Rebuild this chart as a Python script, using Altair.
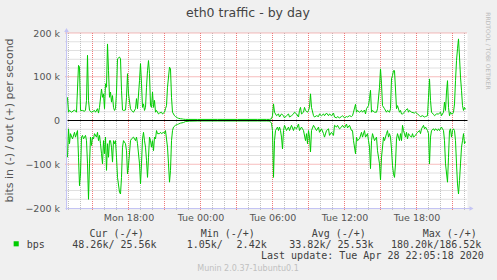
import altair as alt
import pandas as pd

# ---------------- data (5-minute slots from Mon 2020-04-27 12:55) ----------------
START = pd.Timestamp("2020-04-27 12:55")
STEP = pd.Timedelta(minutes=5)
END = START + 400 * STEP

out_idx = [0, 1, 2, 4, 7, 9, 11, 12, 13, 15, 17, 18, 19, 20, 21, 22, 24, 27, 28, 30, 31, 32, 34, 35, 36, 37, 38, 39, 40, 41, 42, 43, 44, 45, 46, 47, 48, 49, 50, 52, 53, 54, 55, 56, 58, 59, 60, 61, 63, 64, 66,
           68, 69, 70, 72, 73, 74, 75, 76, 77, 78, 79, 80, 81, 82, 83, 84, 85, 86, 87, 88, 89, 91, 92, 94, 95, 97, 98, 99, 100, 102, 103, 104, 105, 107, 108, 110, 111, 113, 115, 116, 118,
           130, 150, 170, 190, 199, 202,
           204, 205, 206, 207, 208, 209, 211, 212, 214, 216, 217, 219, 221, 222, 224, 226, 227, 229, 231, 232, 233, 234, 236, 237, 238, 240, 241, 242, 243, 244, 246, 247, 249, 251, 252, 254, 256, 257, 259, 261, 262, 264, 266,
           267, 269, 270, 272, 274, 275, 277, 279, 280, 282, 284, 285, 286, 288, 289, 290, 292, 294, 295, 297, 298, 299, 301, 302, 303, 304, 305, 307, 309, 310, 312, 313, 314, 315, 317, 319, 320, 322, 323, 324, 325, 326, 327, 328, 329, 330, 332, 333, 334,
           335, 337, 338, 340, 341, 342, 344, 347, 348, 350, 352, 353, 355, 357, 358, 360, 361, 362, 363, 364, 366, 367, 369, 371, 373, 374, 376, 377, 378, 379, 380, 381, 382, 383, 384, 385, 386, 387, 388, 389, 390, 391, 392, 393, 394, 395, 396, 397, 398]
out_kbps = [53, 19, 23, 19, 24, 19, 126, 122, 23, 23, 21, 24, 46, 149, 46, 23, 19, 23, 19, 27, 17, 30, 72, 53, 61, 27, 84, 76, 175, 114, 53, 65, 42, 57, 30, 23, 27, 65, 141, 145, 141, 69, 24, 23, 24, 53, 107, 61, 27, 23, 19,
            27, 50, 27, 91, 130, 84, 30, 38, 23, 30, 76, 114, 137, 107, 34, 30, 65, 30, 46, 19, 23, 15, 17, 19, 15, 19, 27, 34, 76, 122, 118, 53, 19, 11, 9, 6, 5, 4, 3.5, 3, 2.5,
            2.45, 2.5, 2.45, 2.5, 2.5, 2.5,
            4, 11, 38, 19, 15, 11, 15, 8, 15, 11, 6, 11, 15, 8, 11, 15, 19, 15, 8, 23, 30, 15, 19, 30, 23, 19, 23, 30, 61, 30, 11, 8, 11, 9, 15, 11, 15, 11, 17, 11, 15, 11, 17,
            8, 6, 9, 6, 9, 11, 6, 9, 8, 11, 9, 11, 19, 37, 19, 23, 19, 23, 19, 24, 15, 27, 34, 50, 69, 19, 23, 19, 19, 27, 76, 118, 84, 34, 27, 19, 23, 19, 27, 95, 103, 114, 114, 72, 27, 34, 19, 23, 15,
            15, 19, 23, 27, 19, 23, 19, 17, 19, 15, 11, 9, 11, 8, 9, 11, 53, 95, 46, 19, 14, 11, 15, 15, 19, 11, 19, 42, 23, 65, 91, 30, 11, 19, 15, 15, 19, 38, 91, 137, 164, 186.5, 145, 99, 69, 34, 23, 30, 25.56]

in_idx = [0, 1, 2, 3, 5, 7, 8, 10, 11, 12, 13, 14, 15, 16, 18, 19, 20, 21, 22, 23, 24, 25, 26, 27, 29, 30, 31, 32, 33, 34, 35, 36, 37, 38, 39, 40, 41, 42, 43, 44, 45, 46, 47, 48, 49, 50, 52, 53, 54, 55, 56, 58, 59, 60, 61, 63, 64, 66,
          68, 69, 70, 72, 73, 74, 75, 76, 77, 78, 79, 80, 81, 82, 83, 84, 85, 86, 87, 88, 89, 90, 92, 93, 94, 96, 97, 98, 100, 101, 102, 103, 104, 105, 106, 108, 110, 111, 113, 116, 118, 122,
          130, 150, 170, 190, 199, 202,
          204, 205, 206, 207, 208, 210, 211, 212, 213, 214, 215, 216, 217, 219, 221, 222, 224, 226, 227, 229, 231, 232, 234, 235, 236, 238, 239, 240, 241, 242, 243, 244, 246, 247, 249, 251, 252, 254, 256, 257, 259, 261, 262, 264, 266,
          267, 269, 270, 272, 274, 275, 277, 279, 280, 282, 284, 285, 286, 288, 289, 290, 292, 294, 295, 297, 298, 300, 301, 302, 303, 304, 305, 307, 309, 310, 312, 313, 314, 316, 317, 319, 320, 321, 322, 323, 324, 325, 326, 327, 328, 329, 330, 332, 333, 334,
          335, 336, 338, 339, 340, 341, 342, 344, 345, 346, 348, 349, 350, 352, 353, 354, 356, 357, 358, 360, 361, 362, 363, 364, 366, 367, 368, 370, 371, 372, 374, 375, 376, 377, 378, 380, 381, 382, 383, 384, 385, 386, 387, 388, 389, 390, 391, 392, 393, 394, 395, 396, 397, 398]
in_kbps = [-84, -19, -53, -30, -42, -27, -38, -23, -84, -149, -122, -38, -34, -42, -34, -46, -99, -180.2, -99, -38, -57, -38, -42, -30, -38, -27, -46, -34, -53, -76, -99, -46, -76, -38, -114, -53, -84, -46, -46, -61, -95, -46, -53, -46, -84, -130, -164, -168, -130, -61, -46, -53, -69, -122, -103, -46, -42, -38,
           -46, -38, -53, -99, -145, -99, -42, -27, -46, -61, -91, -130, -84, -38, -46, -61, -46, -69, -38, -42, -23, -30, -30, -27, -30, -27, -30, -23, -61, -99, -141, -114, -46, -23, -15, -11, -9, -8, -6, -4.6, -2.4, -1.5,
           -1.1, -1.05, -1.1, -1.1, -1.1, -1.2,
           -6, -23, -130, -46, -23, -15, -23, -15, -23, -38, -65, -23, -11, -23, -15, -23, -11, -23, -15, -19, -8, -23, -15, -19, -23, -46, -30, -53, -23, -38, -72, -23, -11, -15, -23, -15, -27, -19, -30, -38, -23, -19, -34, -27, -34,
           -11, -15, -11, -19, -15, -11, -17, -8, -17, -11, -23, -23, -46, -76, -38, -46, -42, -27, -38, -23, -38, -30, -46, -61, -110, -46, -30, -46, -38, -69, -99, -136, -84, -38, -46, -30, -23, -38, -30, -38, -65, -103, -122, -130, -99, -42, -30, -46, -30, -46,
           -11, -23, -38, -27, -42, -30, -34, -38, -30, -38, -34, -30, -27, -23, -30, -19, -11, -19, -15, -23, -30, -99, -38, -23, -19, -23, -19, -23, -19, -23, -15, -19, -23, -46, -99, -141, -84, -23, -19, -38, -23, -19, -23, -46, -99, -145, -168, -137, -99, -61, -46, -30, -53, -48.26]

# grid positions: hours counted from Mon 2020-04-27 00:00, values in k
minor_hours = list(range(13, 47))
major_hours = [15, 18, 21, 24, 27, 30, 33, 36, 39, 42, 45]
label_hours = [18, 24, 30, 36, 42]
minor_k = [-180, -160, -140, -120, -80, -60, -40, -20, 20, 40, 60, 80, 120, 140, 160, 180]
major_k = [-100, 100, 200]
tick_k = [-200, -100, 0, 100, 200]

title = "eth0 traffic - by day"
ytitle = "bits in (-) / out (+) per second"
legend_heads = ["Cur (-/+)", "Min (-/+)", "Avg (-/+)", "Max (-/+)"]
series_name = "bps"
cur_txt, min_in, min_out, avg_txt, max_txt = "48.26k/ 25.56k", "1.05k/", "2.42k", "33.82k/ 25.53k", "180.20k/186.52k"
last_update = "Last update: Tue Apr 28 22:05:18 2020"
munin_ver = "Munin 2.0.37-1ubuntu0.1"
watermark = "RRDTOOL / TOBI OETIKER"

# ---------------- build tables ----------------
DAY0 = pd.Timestamp("2020-04-27 00:00")
lines = pd.concat([
    pd.DataFrame({"t": [START + i * STEP for i in out_idx], "v": out_kbps, "s": "out"}),
    pd.DataFrame({"t": [START + i * STEP for i in in_idx], "v": in_kbps, "s": "in"}),
])
minor_df = pd.DataFrame({"t": [DAY0 + pd.Timedelta(hours=h) for h in minor_hours if h not in major_hours]})
major_df = pd.DataFrame({"t": [DAY0 + pd.Timedelta(hours=h) for h in major_hours]})
hminor_df = pd.DataFrame({"v": minor_k})
hmajor_df = pd.DataFrame({"v": major_k})
zero_df = pd.DataFrame({"v": [0]})

label_vals = [alt.DateTime(year=2020, month=4, date=27 + h // 24, hours=h % 24) for h in label_hours]

xscale = alt.Scale(domain=[START.isoformat(), END.isoformat()])
yscale = alt.Scale(domain=[-200, 200], nice=False, zero=False)

W, H = 400, 175
AXC = "#C4C4F4"
GRIDC = "#C0C0C0"
MGRIDC = "#EE7A7A"
FONT = "DejaVu Sans"
MONO = "DejaVu Sans Mono"

xaxis = alt.Axis(values=label_vals, format="%a %H:%M", grid=False, domain=False,
                 ticks=False, labelPadding=4.5, labelFont=FONT,
                 labelFontSize=9.5, labelColor="#555555", title=None, labelFlush=False,
                 labelBaseline="top")
yaxis = alt.Axis(values=tick_k, grid=False, domain=False, ticks=False,
                 labelPadding=8, labelFont=FONT, labelFontSize=9.5, labelColor="#555555",
                 title=None,
                 labelExpr="datum.value == 0 ? '0' : format(datum.value, 'd') + ' k'")

vminor = alt.Chart(minor_df).mark_rule(color=GRIDC, strokeDash=[1, 1], strokeWidth=1).encode(
    x=alt.X("t:T", scale=xscale, axis=xaxis), y=alt.value(0), y2=alt.value(H + 2))
vmajor = alt.Chart(major_df).mark_rule(color=MGRIDC, strokeDash=[1, 1], strokeWidth=1).encode(
    x=alt.X("t:T", scale=xscale), y=alt.value(0), y2=alt.value(H + 2))
hminor = alt.Chart(hminor_df).mark_rule(color=GRIDC, strokeDash=[1, 1], strokeWidth=1).encode(
    y=alt.Y("v:Q", scale=yscale, axis=yaxis), x=alt.value(-2), x2=alt.value(W))
hmajor = alt.Chart(hmajor_df).mark_rule(color=MGRIDC, strokeDash=[1, 1], strokeWidth=1).encode(
    y=alt.Y("v:Q", scale=yscale), x=alt.value(-2), x2=alt.value(W))

line = alt.Chart(lines).mark_line(color="#00CC00", strokeWidth=1).encode(
    x=alt.X("t:T", scale=xscale), y=alt.Y("v:Q", scale=yscale), detail="s:N")
zero = alt.Chart(zero_df).mark_rule(color="#000000", strokeWidth=1).encode(
    y=alt.Y("v:Q", scale=yscale), x=alt.value(0), x2=alt.value(W))

# axis lines with arrows (rrdtool style)
xdom = alt.Chart(zero_df).mark_rule(color=AXC, strokeWidth=1).encode(
    x=alt.value(-2), x2=alt.value(403), y=alt.value(H + 0.5))
ydom = alt.Chart(zero_df).mark_rule(color=AXC, strokeWidth=1).encode(
    x=alt.value(-1), y=alt.value(H + 2), y2=alt.value(-2))
arr_r = alt.Chart(zero_df).mark_point(shape="triangle-right", filled=True, size=22, color=AXC, opacity=1).encode(
    x=alt.value(404), y=alt.value(H + 0.5))
arr_u = alt.Chart(zero_df).mark_point(shape="triangle-up", filled=True, size=22, color=AXC, opacity=1).encode(
    x=alt.value(-1), y=alt.value(-3))


def txt(s, x, y, size, font=FONT, color="#404040", align="left", angle=0, baseline="alphabetic"):
    kw = dict(align=align, baseline=baseline, font=font, fontSize=size, color=color)
    if angle:
        kw["angle"] = angle
    return alt.Chart(pd.DataFrame({"s": [s]})).mark_text(**kw).encode(
        text="s:N", x=alt.value(x), y=alt.value(y))


texts = [
    txt(title, 180.5, -16, 12.5, color="#444444", align="center"),
    txt(ytitle, -57.5, 87.5, 11, color="#555555", align="center", angle=270, baseline="middle"),
    txt(watermark, 420.5, 18, 6, color="#BBBBBB", align="center", angle=90, baseline="middle"),
    txt(legend_heads[0], 22, 203.5, 10, MONO),
    txt(legend_heads[1], 133.2, 203.5, 10, MONO),
    txt(legend_heads[2], 244.2, 203.5, 10, MONO),
    txt(legend_heads[3], 355.2, 203.5, 10, MONO),
    txt(series_name, -40.8, 214.7, 10, MONO),
    txt(cur_txt, 4.8, 214.7, 10, MONO),
    txt(min_in, 119.2, 214.7, 10, MONO),
    txt(min_out, 199.2, 214.7, 10, MONO, align="right"),
    txt(avg_txt, 221.8, 214.7, 10, MONO),
    txt(max_txt, 323.5, 214.7, 10, MONO),
    txt(last_update, 193.5, 226.3, 10, MONO),
    txt(munin_ver, 180.5, 238, 8, color="#C0C0C0", align="center"),
]
swatch = alt.Chart(zero_df).mark_square(color="#00CC00", size=26, opacity=1).encode(
    x=alt.value(-51.3), y=alt.value(210.8))

chart = alt.layer(vminor, vmajor, hminor, hmajor, line, zero, xdom, ydom, arr_r, arr_u, swatch, *texts).properties(
    width=W, height=H, background="#F0F0F0",
    autosize=alt.AutoSizeParams(type="none"),
    padding={"left": 67.5, "top": 33, "right": 29.5, "bottom": 72},
).configure_view(fill="#FFFFFF", stroke=None)

chart.save("out.html", embed_options={"renderer": "svg", "actions": False})
